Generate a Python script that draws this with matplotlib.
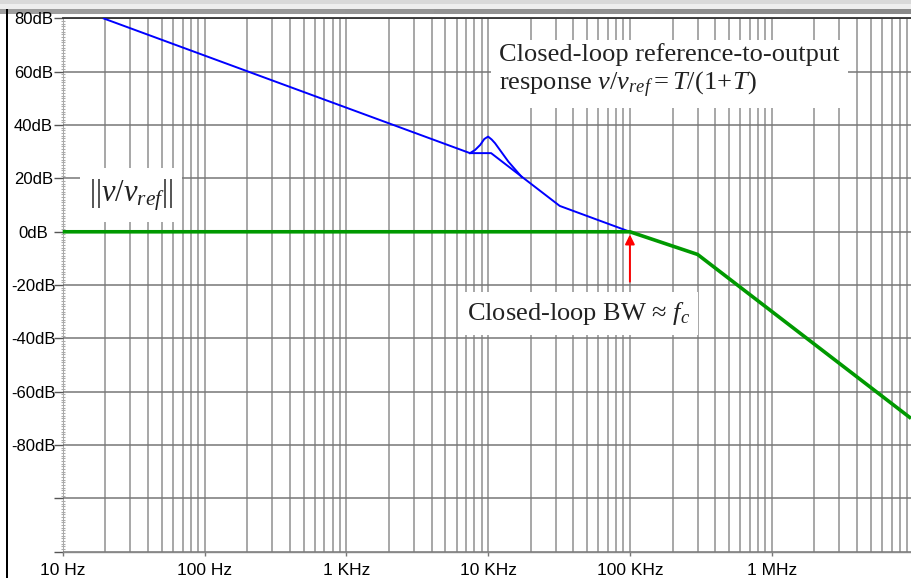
import matplotlib
matplotlib.use('Agg')
import matplotlib.pyplot as plt
import numpy as np
from matplotlib.patches import Rectangle
from matplotlib.ticker import LogLocator, MultipleLocator, NullFormatter

plt.rcParams['font.family'] = ['Liberation Sans', 'DejaVu Sans']
plt.rcParams['mathtext.fontset'] = 'custom'
plt.rcParams['mathtext.rm'] = 'Liberation Serif'
plt.rcParams['mathtext.it'] = 'Liberation Serif:italic'

# loop gain T, straight-line asymptotes (Hz, dB)
t_freq = [19.5, 7.45e3, 10.5e3, 32e3, 100e3]
t_db = [80, 29.5, 29.5, 9.7, 0]

# actual T around the resonance near 10 kHz
peak_freq = [7.45e3, 8.1e3, 8.8e3, 9.4e3, 10.0e3, 10.6e3, 11.2e3, 13.9e3, 17.3e3]
peak_db = [29.5, 30.7, 32.6, 34.8, 35.7, 34.6, 33.2, 26.3, 20.5]

# closed-loop reference-to-output magnitude
cl_freq = [10, 100e3, 300e3, 9.6e6]
cl_db = [0, 0, -8.5, -70]

# crossover marker
fc = 100e3
arrow_db = [-18.7, 0]

x_ticks = [10, 100, 1e3, 1e4, 1e5, 1e6]
x_labels = ['10 Hz', '100 Hz', '1 KHz', '10 KHz', '100 KHz', '1 MHz']
y_ticks = [80, 60, 40, 20, 0, -20, -40, -60, -80, -100, -120]
y_labels = ['80dB', '60dB', '40dB', '20dB', '0dB', '-20dB', '-40dB', '-60dB', '-80dB', '', '']

W, H = 911, 582
fig = plt.figure(figsize=(W / 100, H / 100), dpi=100)

# window chrome along the top and left edge
fig.add_artist(Rectangle((0, 1 - 4 / H), 1, 4 / H, transform=fig.transFigure,
                         facecolor='#d9d9d9', edgecolor='none'))
fig.add_artist(Rectangle((0, 1 - 8.5 / H), 1, 4.5 / H, transform=fig.transFigure,
                         facecolor='#eeeeee', edgecolor='none'))
band = fig.add_axes([0, 1 - 14 / H, 1, 5.5 / H])
band.imshow(np.linspace(0.62, 0.54, 256)[None, :], cmap='gray', vmin=0, vmax=1,
            aspect='auto', extent=[0, 1, 0, 1])
band.axis('off')
fig.add_artist(Rectangle((6 / W, 4 / H), 2.2 / W, 1 - 13 / H, transform=fig.transFigure,
                         facecolor='black', edgecolor='none'))

ax = fig.add_axes([62.7 / W, 30.3 / H, 848.3 / W, 533.2 / H])
ax.set_xscale('log')
ax.set_xlim(10, 9.6e6)
ax.set_ylim(-120, 80)

ax.set_xticks(x_ticks, labels=x_labels)
ax.xaxis.set_minor_locator(LogLocator(base=10, subs=np.arange(2, 10), numticks=100))
ax.xaxis.set_minor_formatter(NullFormatter())
ax.set_yticks(y_ticks, labels=y_labels, ha='center')
ax.yaxis.set_minor_locator(MultipleLocator(1))

ax.tick_params(axis='x', which='major', direction='out', length=3, width=1,
               color='#777777', pad=5, labelsize=12.5)
ax.tick_params(axis='x', which='minor', length=0)
ax.tick_params(axis='y', which='major', direction='out', length=6.5, width=1,
               color='#555555', pad=14.5, labelsize=12)
ax.tick_params(axis='y', which='minor', direction='inout', length=3, width=0.8,
               color='#aaaaaa')

ax.set_axisbelow(True)
ax.grid(True, axis='x', which='both', color='#8f8f8f', lw=1.1)
ax.grid(True, axis='y', which='major', color='#777777', lw=1.1)

for side in ['left', 'right']:
    ax.spines[side].set_visible(False)
ax.spines['top'].set_color('#333333')
ax.spines['top'].set_linewidth(1.3)
ax.spines['bottom'].set_color('#888888')
ax.spines['bottom'].set_linewidth(1.0)

# curves
ax.plot(t_freq, t_db, color='#0000ff', lw=1.4, zorder=4)
ax.plot(peak_freq, peak_db, color='#0000ff', lw=1.4, zorder=4)
ax.plot(cl_freq, cl_db, color='#009900', lw=2.6, zorder=5, clip_on=False,
        solid_capstyle='butt')

ax.annotate('', xy=(fc, arrow_db[1]), xytext=(fc, arrow_db[0]),
            arrowprops=dict(arrowstyle='-|>', color='#ff0000', lw=1.4,
                            mutation_scale=14, shrinkA=0, shrinkB=2),
            zorder=6)

box = dict(facecolor='white', edgecolor='none', boxstyle='square,pad=0.3')
serif = 'Liberation Serif'
ax.text(0.7153, 0.9006,
        'Closed-loop reference-to-output\nresponse $v/v_{ref} = T/(1\\!+\\!T)$',
        transform=ax.transAxes, ha='center', va='center', multialignment='left',
        fontsize=19, family=serif, color='#222222', bbox=box, zorder=7)
ax.text(0.0805, 0.669, r'$||v/v_{ref}||$', transform=ax.transAxes,
        ha='center', va='center', fontsize=22, family=serif, color='#222222',
        bbox=box, zorder=7)
ax.text(0.6086, 0.4467, r'Closed-loop BW ≈ $f_c$', transform=ax.transAxes,
        ha='center', va='center', fontsize=19, family=serif, color='#222222',
        bbox=box, zorder=7)

fig.savefig('out.png', dpi=100)
